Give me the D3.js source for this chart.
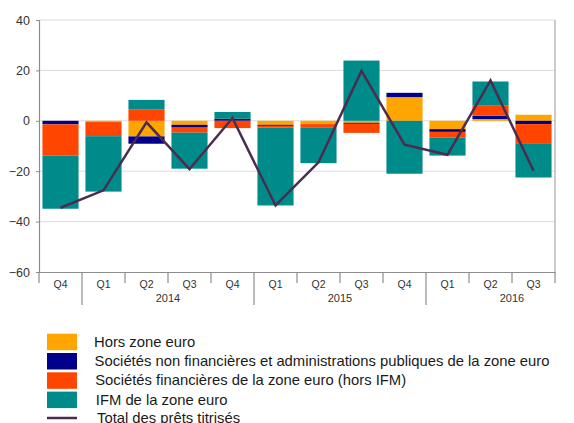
<!DOCTYPE html>
<html>
<head>
<meta charset="utf-8">
<script src="https://cdn.jsdelivr.net/npm/d3@7"></script>
<style>
  body { margin: 0; background: #fff; }
  svg { font-family: Arial, "Liberation Sans", sans-serif; }
  .axis text { fill: #333; font-size: 10.5px; }
  .legend text { fill: #1a1a1a; font-size: 14.8px; }
</style>
</head>
<body>
<div class="chart"></div>
<script>
// quarters and their years
var quarters = ["Q4", "Q1", "Q2", "Q3", "Q4", "Q1", "Q2", "Q3", "Q4", "Q1", "Q2", "Q3"];
var years = ["2013", "2014", "2014", "2014", "2014", "2015", "2015", "2015", "2015", "2016", "2016", "2016"];
var yearLabels = ["2014", "2015", "2016"];
var yTicks = [40, 20, 0, -20, -40, -60];

// series
var horsZone   = [0, -0.5, -6.2, -1.6, 0, -1.6, -1.3, -0.8, 9.4, -3.3, 0.7, 2.4];
var snfApu     = [-1.4, 0, -2.9, -1.1, 0.8, -0.4, 0, -0.4, 1.7, -1.1, 1.3, -1.3];
var socFin     = [-12.4, -5.6, 4.6, -2.0, -2.9, -0.7, -1.3, -3.6, 0, -2.2, 4.0, -7.6];
var ifm        = [-21.1, -22.0, 3.7, -14.3, 2.7, -30.9, -14.2, 23.9, -21.0, -7.2, 9.6, -13.6];
var totalPrets = [-34.5, -27.6, -0.6, -19.2, 1.1, -33.6, -16.5, 19.8, -9.5, -13.5, 16.0, -19.8];

var seriesNames = [
    "Hors zone euro",
    "Sociétés non financières et administrations publiques de la zone euro",
    "Sociétés financières de la zone euro (hors IFM)",
    "IFM de la zone euro"
];
var lineName = "Total des prêts titrisés";
var colors = ["#ffa500", "#00008b", "#ff4500", "#008b8b"];
var lineColor = "#4b2c4f";

var svgWidth = 574, svgHeight = 423;
var plotLeft = 39, plotRight = 555, plotTop = 20, plotBottom = 272;

var svg = d3.select(".chart").append("svg")
    .attr("width", svgWidth)
    .attr("height", svgHeight);

// build table for the stack
var table = quarters.map(function(q, i) {
    return { i: i, s0: horsZone[i], s1: snfApu[i], s2: socFin[i], s3: ifm[i] };
});
var keys = ["s0", "s1", "s2", "s3"];
var stacked = d3.stack().keys(keys).offset(d3.stackOffsetDiverging)(table);

var idx = d3.range(quarters.length);

var xBand = d3.scaleBand()
    .domain(idx)
    .range([plotLeft, plotRight])
    .paddingInner(0.16)
    .paddingOuter(0.08);

var xStep = d3.scaleBand().domain(idx).range([plotLeft, plotRight]);

var y = d3.scaleLinear()
    .domain([-60, 40])
    .range([plotBottom, plotTop]);

// gridlines
svg.append("g")
    .selectAll("line")
    .data(yTicks.filter(function(d) { return d > -60; }))
    .enter()
    .append("line")
    .attr("x1", plotLeft)
    .attr("x2", plotRight)
    .attr("y1", d => y(d))
    .attr("y2", d => y(d))
    .attr("stroke", "#dcdcdc")
    .attr("stroke-width", 1);

// bars
svg.append("g")
    .selectAll("g")
    .data(stacked)
    .enter()
    .append("g")
    .attr("fill", (d, k) => colors[k])
    .selectAll("rect")
    .data(d => d)
    .enter()
    .append("rect")
    .attr("x", d => xBand(d.data.i))
    .attr("width", xBand.bandwidth())
    .attr("y", d => y(Math.max(d[0], d[1])))
    .attr("height", d => Math.abs(y(d[0]) - y(d[1])));

// total line
var line = d3.line()
    .x((d, i) => xStep(i) + xStep.bandwidth() / 2)
    .y(d => y(d));

svg.append("path")
    .datum(totalPrets)
    .attr("d", line)
    .attr("fill", "none")
    .attr("stroke", lineColor)
    .attr("stroke-width", 2.5)
    .attr("stroke-linejoin", "miter");

// y axis
var yAxis = d3.axisLeft(y).tickValues(yTicks).tickSize(3).tickPadding(6);
var yG = svg.append("g")
    .attr("class", "axis")
    .attr("transform", `translate(${plotLeft},0)`)
    .call(yAxis);
yG.select(".domain").attr("stroke", "#8c8c8c").attr("stroke-width", 1.2);
yG.selectAll(".tick line").attr("stroke", "#8c8c8c");
yG.selectAll("text").style("font-size", "12.5px");

// right border
svg.append("line")
    .attr("x1", plotRight).attr("x2", plotRight)
    .attr("y1", plotTop).attr("y2", plotBottom)
    .attr("stroke", "#999");

// x axis: quarter labels
var xAxis = d3.axisBottom(xStep).tickSize(0).tickPadding(9).tickFormat(i => quarters[i]);
var xG = svg.append("g")
    .attr("class", "axis")
    .attr("transform", `translate(0,${plotBottom})`)
    .call(xAxis);
xG.select(".domain").attr("stroke", "#8c8c8c").attr("stroke-width", 1.2);

// boundary ticks, longer between years
var bounds = d3.range(quarters.length + 1);
svg.append("g")
    .selectAll("line")
    .data(bounds)
    .enter()
    .append("line")
    .attr("x1", b => plotLeft + b * xStep.step())
    .attr("x2", b => plotLeft + b * xStep.step())
    .attr("y1", plotBottom)
    .attr("y2", function(b) {
        var yearChange = b > 0 && b < quarters.length && years[b] !== years[b - 1];
        return yearChange ? 305 : 283;
    })
    .attr("stroke", "#8c8c8c")
    .attr("stroke-width", 1.2);

// year labels, centred on the full year (Q2/Q3 boundary)
svg.append("g")
    .attr("class", "axis")
    .selectAll("text")
    .data(yearLabels)
    .enter()
    .append("text")
    .attr("x", function(yr) {
        var first = years.indexOf(yr);
        return plotLeft + (first + 2) * xStep.step();
    })
    .attr("y", 302)
    .attr("text-anchor", "middle")
    .style("font-size", "11px")
    .text(d => d);

// legend
var legend = svg.append("g").attr("class", "legend");
seriesNames.forEach(function(name, k) {
    var cy = 341.7 + k * 19.3;
    legend.append("rect")
        .attr("x", 47)
        .attr("y", cy - 8)
        .attr("width", 30)
        .attr("height", 16.5)
        .attr("fill", colors[k]);
    legend.append("text")
        .attr("x", 94 + k * 0.6)
        .attr("y", cy + 5)
        .text(name);
});
legend.append("line")
    .attr("x1", 47).attr("x2", 77)
    .attr("y1", 418).attr("y2", 418)
    .attr("stroke", lineColor)
    .attr("stroke-width", 2.5);
legend.append("text")
    .attr("x", 97)
    .attr("y", 418 + 5)
    .text(lineName);
</script>
</body>
</html>
